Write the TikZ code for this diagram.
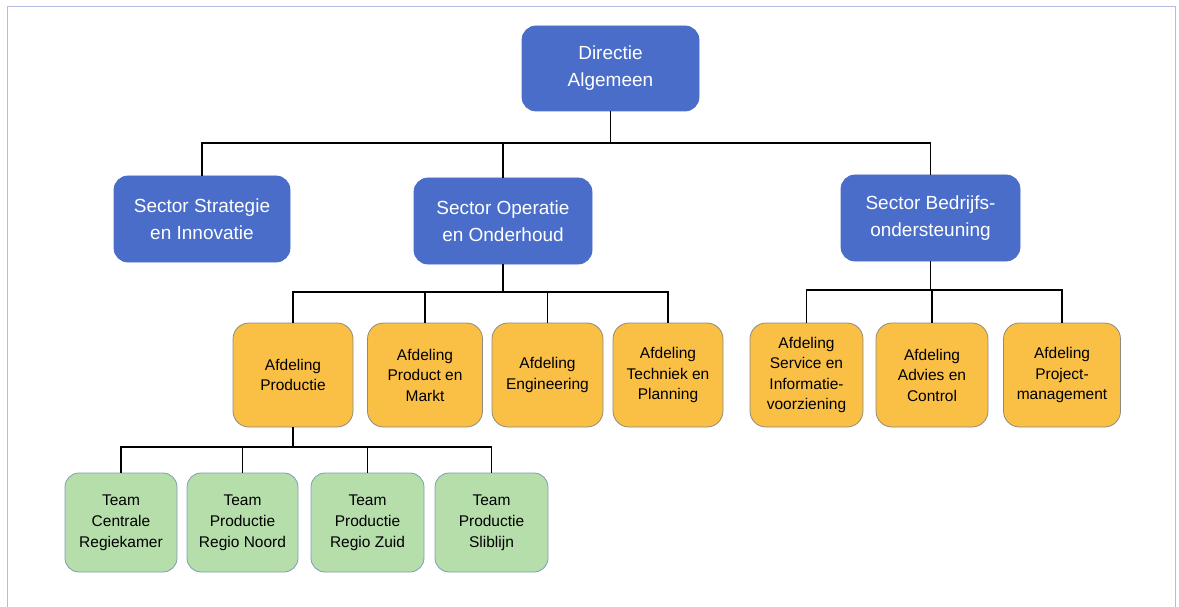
\documentclass[tikz,border=0pt]{standalone}
\usepackage{fontspec}
\setmainfont{Liberation Sans}
\definecolor{sectorblue}{HTML}{4A6DC9}
\definecolor{deptorange}{HTML}{FAC046}
\definecolor{deptedge}{HTML}{8E8A80}
\definecolor{teamgreen}{HTML}{B6DEAA}
\definecolor{teamedge}{HTML}{7E9DB2}
\definecolor{frameblue}{HTML}{B4BAE0}
\begin{document}
\begin{tikzpicture}[x=1pt,y=-1pt,
  unit/.style={rounded corners=14pt, align=center, inner sep=2pt, line width=0.8pt},
  bluebox/.style={unit, fill=sectorblue, draw=sectorblue, text=white,
    font=\fontsize{19}{27}\selectfont},
  orangebox/.style={unit, fill=deptorange, draw=deptedge, text=black,
    rounded corners=16pt, font=\fontsize{15.5}{20.5}\selectfont},
  greenbox/.style={unit, fill=teamgreen, draw=teamedge, text=black,
    font=\fontsize{15.5}{21}\selectfont},
  link/.style={draw=black, line width=1.1pt}]
\useasboundingbox (0,0) rectangle (1179,607);
% frame
\draw[frameblue, line width=1pt] (7,607) -- (7,7) -- (1175,7) -- (1175,607);

% top level
\node[bluebox, minimum width=177pt, minimum height=85pt] (dir) at (610.5,68.5) {Directie\\Algemeen};

% sectors
\node[bluebox, minimum width=176pt, minimum height=86pt] (s1) at (202,219) {Sector Strategie\\en Innovatie};
\node[bluebox, minimum width=178pt, minimum height=86pt] (s2) at (503,221) {Sector Operatie\\en Onderhoud};
\node[bluebox, minimum width=179pt, minimum height=86pt] (s3) at (930.5,218) {Sector Bedrijfs-\\ondersteuning};

% departments
\node[orangebox, minimum width=120pt, minimum height=104pt] (a1) at (293,375) {Afdeling\\Productie};
\node[orangebox, minimum width=115pt, minimum height=104pt] (a2) at (425,375) {Afdeling\\Product en\\Markt};
\node[orangebox, minimum width=111pt, minimum height=104pt] (a3) at (547.5,375) {Afdeling\\Engineering};
\node[orangebox, minimum width=110pt, minimum height=104pt] (a4) at (668,375) {Afdeling\\Techniek en\\Planning};
\node[orangebox, minimum width=113pt, minimum height=104pt] (a5) at (806.5,375) {Afdeling\\Service en\\Informatie-\\voorziening};
\node[orangebox, minimum width=112pt, minimum height=104pt] (a6) at (932,375) {Afdeling\\Advies en\\Control};
\node[orangebox, minimum width=117pt, minimum height=104pt] (a7) at (1062,375) {Afdeling\\Project-\\management};

% teams
\node[greenbox, minimum width=112pt, minimum height=99pt] (t1) at (121,522.5) {Team\\Centrale\\Regiekamer};
\node[greenbox, minimum width=111pt, minimum height=99pt] (t2) at (242.5,522.5) {Team\\Productie\\Regio Noord};
\node[greenbox, minimum width=113pt, minimum height=99pt] (t3) at (367.5,522.5) {Team\\Productie\\Regio Zuid};
\node[greenbox, minimum width=113pt, minimum height=99pt] (t4) at (491.5,522.5) {Team\\Productie\\Sliblijn};

% bus levels
\coordinate (busA) at (0,143);
\coordinate (busB) at (0,292);
\coordinate (busC) at (0,290);
\coordinate (busD) at (0,447);

% connectors
\foreach \c in {s1,s2,s3}
  \draw[link] (dir.south) -- (dir.south |- busA) -| (\c.north);
\foreach \c in {a1,a2,a3,a4}
  \draw[link] (s2.south) -- (s2.south |- busB) -| (\c.north);
\foreach \c in {a5,a6,a7}
  \draw[link] (s3.south) -- (s3.south |- busC) -| (\c.north);
\foreach \c in {t1,t2,t3,t4}
  \draw[link] (a1.south) -- (a1.south |- busD) -| (\c.north);
\end{tikzpicture}
\end{document}
